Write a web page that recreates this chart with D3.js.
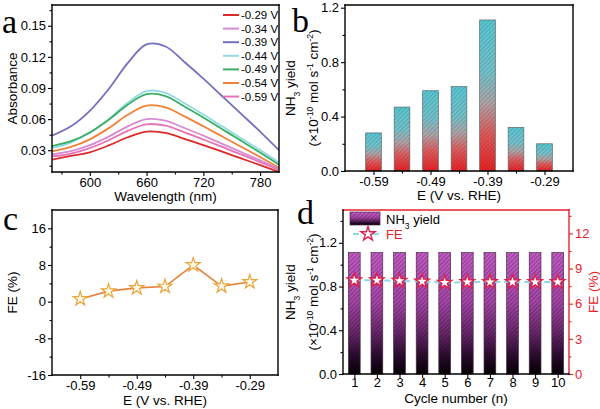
<!DOCTYPE html>
<html><head><meta charset="utf-8">
<script src="https://cdn.jsdelivr.net/npm/d3@7"></script>
<style>body{margin:0;background:#fff}svg{display:block}text{font-family:"Liberation Sans",Arial,sans-serif}</style>
</head><body><svg id="c" width="600" height="409"></svg>
<script>
// ---------- data ----------
const wavelengths = [560,580,600,620,640,660,680,700,720,740,760,780,800];
const spectraLabels = ["-0.29 V","-0.34 V","-0.39 V","-0.44 V","-0.49 V","-0.54 V","-0.59 V"];
const spectraColors = ["#dc2a2a","#d98ad6","#7470bf","#92dbe6","#3aae62","#ef8236","#e872b4"];
const spec029 = [.0210,.0245,.0280,.0346,.0425,.0480,.0467,.0410,.0349,.0286,.0221,.0157,.0090];
const spec034 = [.0260,.0291,.0349,.0431,.0530,.0600,.0585,.0514,.0440,.0361,.0282,.0203,.0120];
const spec039 = [.0440,.0530,.0680,.0890,.1140,.1320,.1300,.1150,.0990,.0820,.0650,.0480,.0300];
const spec044 = [.0320,.0374,.0468,.0600,.0757,.0870,.0853,.0752,.0644,.0530,.0415,.0301,.0180];
const spec049 = [.0340,.0387,.0471,.0593,.0738,.0840,.0821,.0721,.0615,.0503,.0391,.0278,.0160];
const spec054 = [.0290,.0332,.0405,.0513,.0641,.0730,.0713,.0626,.0531,.0433,.0334,.0234,.0130];
const spec059 = [.0240,.0268,.0320,.0397,.0487,.0550,.0536,.0472,.0403,.0332,.0259,.0186,.0110];
const spectra = [spec029,spec034,spec039,spec044,spec049,spec054,spec059];

const potentials = [-0.59,-0.54,-0.49,-0.44,-0.39,-0.34,-0.29];
const potentialTicks = [-0.59,-0.49,-0.39,-0.29];
const yieldValues = [0.28,0.47,0.59,0.62,1.11,0.32,0.20];
const feValues = [0.6,2.3,3.0,3.3,8.0,3.4,4.3];

const cycles = [1,2,3,4,5,6,7,8,9,10];
const cycleYield = [1.11,1.11,1.11,1.11,1.11,1.11,1.11,1.11,1.11,1.11];
const cycleFE = [8.0,8.0,7.95,7.9,7.8,7.85,7.85,7.85,7.85,7.85];

// ---------- setup ----------
const svg = d3.select("#c");
const defs = svg.append("defs");
const FONT = 13;
const RED = "#e8202a";
const fmtSigned = p => v => (v < 0 ? "-" : "") + d3.format(p)(Math.abs(v));

function hatch(id, col){
  defs.append("pattern").attr("id",id).attr("patternUnits","userSpaceOnUse")
    .attr("width",3).attr("height",3).attr("patternTransform","rotate(45)")
    .append("line").attr("x1",0.5).attr("y1",0).attr("x2",0.5).attr("y2",3)
    .attr("stroke",col).attr("stroke-width",0.9);
}
hatch("hatchB","rgba(60,60,60,0.28)");
hatch("hatchD","rgba(30,0,30,0.35)");
function grad(id, stops){
  const g = defs.append("linearGradient").attr("id",id).attr("x1",0).attr("y1",0).attr("x2",0).attr("y2",1);
  stops.forEach(s=>g.append("stop").attr("offset",s[0]).attr("stop-color",s[1]));
}
grad("gradB",[[0,"#55c8d4"],[0.35,"#73c3cc"],[0.55,"#b0a4a8"],[0.75,"#e05a5c"],[1,"#ec1e1e"]]);
grad("gradD",[[0,"#c45dc6"],[0.4,"#a848aa"],[0.65,"#6a2a6c"],[0.85,"#2a0c2c"],[1,"#000000"]]);

function axes(g, scale, orient, major, minor, fmt, color, pad){
  color = color || "#000";
  pad = pad === undefined ? 2 : pad;
  const mk = orient==="b"?d3.axisBottom:orient==="l"?d3.axisLeft:d3.axisRight;
  const a1 = g.append("g").call(mk(scale).tickValues(major).tickSize(4).tickSizeOuter(0).tickPadding(pad).tickFormat(fmt));
  const a2 = g.append("g").call(mk(scale).tickValues(minor).tickSize(2.5).tickSizeOuter(0).tickFormat(""));
  [a1,a2].forEach(a=>{
    a.select(".domain").remove();
    a.selectAll("line").attr("stroke",color).attr("stroke-width",1.1);
    a.selectAll("text").attr("fill",color).style("font-size",FONT+"px").style("font-family",'"Liberation Sans",Arial,sans-serif');
  });
}
function frame(P, colors){
  colors = colors || {};
  const seg = (x1,y1,x2,y2,c)=>svg.append("line").attr("x1",x1).attr("y1",y1).attr("x2",x2).attr("y2",y2)
    .attr("stroke",c||"#000").attr("stroke-width",1.4).attr("stroke-linecap","square");
  seg(P.l,P.t,P.r,P.t,colors.t); seg(P.r,P.t,P.r,P.b,colors.r);
  seg(P.l,P.b,P.r,P.b,colors.b); seg(P.l,P.t,P.l,P.b,colors.l);
}
function vtitle(x, yc, parts, color){
  const t = svg.append("text").attr("transform",`translate(${x},${yc}) rotate(-90)`)
    .attr("text-anchor","middle").style("font-size","13.5px").attr("fill",color||"#000");
  parts.forEach(p=>{
    if (typeof p === "string") t.append("tspan").text(p);
    else t.append("tspan").attr("baseline-shift",p.sup?"super":"sub").style("font-size","8.5px").text(p.t);
  });
  return t;
}
function htitle(x, y, txt){
  svg.append("text").attr("x",x).attr("y",y).attr("text-anchor","middle").style("font-size","13.5px").text(txt);
}
function letter(x,y,ch){
  svg.append("text").attr("x",x).attr("y",y).style("font-family",'"Liberation Serif","Times New Roman",serif')
    .style("font-size","34px").text(ch);
}
const yieldUnit = ["(×10",{t:"-10",sup:1}," mol s",{t:"-1",sup:1}," cm",{t:"-2",sup:1},")"];
const nh3 = ["NH",{t:"3"}," yield"];

// ---------- panel a ----------
const A = {l:52,r:279,t:5,b:172};
const xa = d3.scaleLinear([560,800],[A.l,A.r]);
const ya = d3.scaleLinear([0.009,0.17],[A.b,A.t]);
defs.append("clipPath").attr("id","clipA").append("rect").attr("x",A.l).attr("y",A.t).attr("width",A.r-A.l).attr("height",A.b-A.t);
const lineA = d3.line().x((d,i)=>xa(wavelengths[i])).y(d=>ya(d)).curve(d3.curveCatmullRom);
const gA = svg.append("g").attr("clip-path","url(#clipA)");
[2,3,4,5,1,6,0].forEach(i=>{
  gA.append("path").attr("d",lineA(spectra[i])).attr("fill","none").attr("stroke",spectraColors[i]).attr("stroke-width",1.8);
});
axes(svg.append("g").attr("transform",`translate(0,${A.b})`), xa, "b", [600,660,720,780], [570,630,690,750], d3.format("d"));
axes(svg.append("g").attr("transform",`translate(${A.l},0)`), ya, "l", [0.03,0.06,0.09,0.12,0.15], [0.015,0.045,0.075,0.105,0.135,0.165], d3.format(".2f"));
frame(A);
const legA = svg.append("g");
spectraLabels.forEach((lab,i)=>{
  const y = 15 + i*13.6;
  legA.append("line").attr("x1",223).attr("x2",239).attr("y1",y).attr("y2",y).attr("stroke",spectraColors[i]).attr("stroke-width",2);
  legA.append("text").attr("x",241).attr("y",y).attr("dy","0.35em").style("font-size","11.5px").text(lab);
});
vtitle(16.5,(A.t+A.b)/2,["Absorbance"]);
htitle((A.l+A.r)/2,201,"Wavelength (nm)");
letter(2,33,"a");

// ---------- panel b ----------
const B = {l:345,r:573,t:5,b:171};
const xb = d3.scaleLinear([-0.64,-0.24],[B.l,B.r]);
const yb = d3.scaleLinear([0,1.22],[B.b,B.t]);
const bwB = xb(-0.64+0.0275)-xb(-0.64);
potentials.forEach((p,i)=>{
  const x = xb(p)-bwB/2, y = yb(yieldValues[i]), h = yb(0)-yb(yieldValues[i]);
  svg.append("rect").attr("x",x).attr("y",y).attr("width",bwB).attr("height",h).attr("fill","url(#gradB)");
  svg.append("rect").attr("x",x).attr("y",y).attr("width",bwB).attr("height",h).attr("fill","url(#hatchB)")
    .attr("stroke","#5a6a6c").attr("stroke-width",0.7);
});
axes(svg.append("g").attr("transform",`translate(0,${B.b})`), xb, "b", potentialTicks, [-0.54,-0.44,-0.34], fmtSigned(".2f"));
axes(svg.append("g").attr("transform",`translate(${B.l},0)`), yb, "l", [0,0.4,0.8,1.2], [0.2,0.6,1.0], d3.format(".1f"));
frame(B);
vtitle(295,(B.t+B.b)/2,nh3);
vtitle(318,(B.t+B.b)/2,yieldUnit);
htitle((B.l+B.r)/2,200,"E (V vs. RHE)");
letter(292,32,"b");

// ---------- panel c ----------
const C = {l:52,r:278,t:210,b:375};
const xc = d3.scaleLinear([-0.64,-0.24],[C.l,C.r]);
const yc = d3.scaleLinear([-16,20],[C.b,C.t]);
const lineC = d3.line().x((d,i)=>xc(potentials[i])).y(d=>yc(d));
svg.append("path").attr("d",lineC(feValues)).attr("fill","none").attr("stroke","#e8823c").attr("stroke-width",1.6);
const star = d3.symbol().type(d3.symbolStar).size(62);
feValues.forEach((v,i)=>{
  svg.append("path").attr("d",star()).attr("transform",`translate(${xc(potentials[i])},${yc(v)})`)
    .attr("fill","#fffaea").attr("stroke","#e9a43a").attr("stroke-width",1.2);
});
axes(svg.append("g").attr("transform",`translate(0,${C.b})`), xc, "b", potentialTicks, [-0.54,-0.44,-0.34], fmtSigned(".2f"));
axes(svg.append("g").attr("transform",`translate(${C.l},0)`), yc, "l", [-16,-8,0,8,16], [-12,-4,4,12], fmtSigned("d"));
frame(C);
vtitle(16.5,(C.t+C.b)/2,["FE (%)"]);
htitle((C.l+C.r)/2,404.5,"E (V vs. RHE)");
letter(3,230,"c");

// ---------- panel d ----------
const D = {l:343,r:569,t:210,b:374};
const xd = d3.scaleLinear([0.5,10.5],[D.l,D.r]);
const yd = d3.scaleLinear([0,1.5],[D.b,D.t]);
const yr = d3.scaleLinear([0,14],[D.b,D.t]);
const bwD = xd(0.5+0.52)-xd(0.5);
cycles.forEach((c,i)=>{
  const x = xd(c)-bwD/2, y = yd(cycleYield[i]), h = yd(0)-yd(cycleYield[i]);
  svg.append("rect").attr("x",x).attr("y",y).attr("width",bwD).attr("height",h).attr("fill","url(#gradD)");
  svg.append("rect").attr("x",x).attr("y",y).attr("width",bwD).attr("height",h).attr("fill","url(#hatchD)")
    .attr("stroke","#4a2a4a").attr("stroke-width",0.7);
});
const lineD = d3.line().x((d,i)=>xd(cycles[i])).y(d=>yr(d));
svg.append("path").attr("d",lineD(cycleFE)).attr("fill","none").attr("stroke","#8fd8e6").attr("stroke-width",2).attr("stroke-dasharray","6,4");
const starD = d3.symbol().type(d3.symbolStar).size(62);
cycleFE.forEach((v,i)=>{
  svg.append("path").attr("d",starD()).attr("transform",`translate(${xd(cycles[i])},${yr(v)})`)
    .attr("fill","#fff").attr("stroke","#e0204a").attr("stroke-width",1.4);
});
axes(svg.append("g").attr("transform",`translate(0,${D.b})`), xd, "b", cycles, [], d3.format("d"), "#000", 0);
axes(svg.append("g").attr("transform",`translate(${D.l},0)`), yd, "l", [0,0.4,0.8,1.2], [0.2,0.6,1.0,1.4], d3.format(".1f"));
axes(svg.append("g").attr("transform",`translate(${D.r},0)`), yr, "r", [0,3,6,9,12], [1.5,4.5,7.5,10.5,13.5], d3.format("d"), RED);
frame(D,{t:RED,r:RED});
// legend d
svg.append("rect").attr("x",350).attr("y",212).attr("width",30).attr("height",13).attr("fill","url(#gradD)");
svg.append("rect").attr("x",350).attr("y",212).attr("width",30).attr("height",13).attr("fill","url(#hatchD)").attr("stroke","#4a2a4a").attr("stroke-width",0.7);
const ltD = svg.append("text").attr("x",386).attr("y",223.5).style("font-size","13px");
ltD.append("tspan").text("NH"); ltD.append("tspan").attr("baseline-shift","sub").style("font-size","8.5px").text("3"); ltD.append("tspan").text(" yield");
svg.append("line").attr("x1",353).attr("x2",383).attr("y1",234).attr("y2",234).attr("stroke","#8fd8e6").attr("stroke-width",2).attr("stroke-dasharray","6,4");
svg.append("path").attr("d",starD()).attr("transform","translate(368,234)").attr("fill","#fff").attr("stroke","#e0204a").attr("stroke-width",1.4);
svg.append("text").attr("x",386).attr("y",238.5).style("font-size","13px").attr("fill",RED).text("FE");
vtitle(295,(D.t+D.b)/2,nh3);
vtitle(318,(D.t+D.b)/2,yieldUnit);
vtitle(598,(D.t+D.b)/2,["FE (%)"],RED);
htitle((D.l+D.r)/2,402.5,"Cycle number (n)");
letter(297,224,"d");
</script></body></html>
